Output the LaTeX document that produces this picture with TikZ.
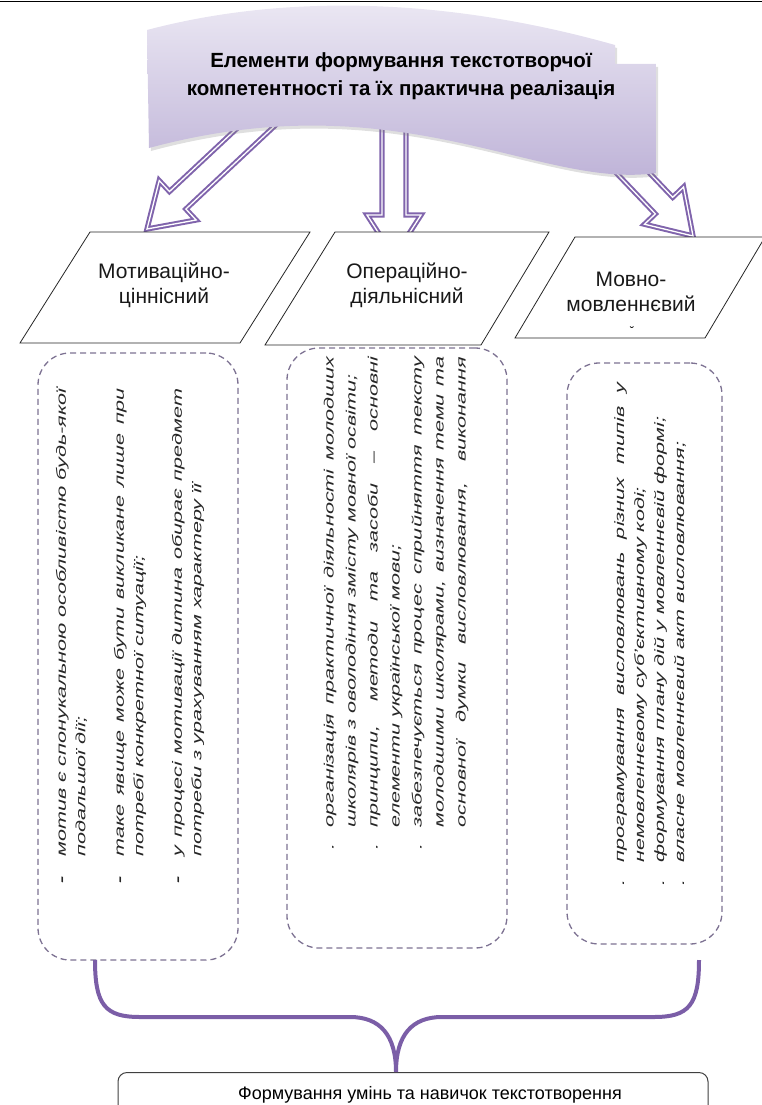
\documentclass[tikz,border=0pt]{standalone}
\usepackage{fontspec}
\setmainfont{Liberation Sans}
\usepackage{xcolor}
\usetikzlibrary{calc,shadows,backgrounds}

\definecolor{bannerTop}{RGB}{238,235,245}
\definecolor{bannerBottom}{RGB}{188,176,214}
\definecolor{arrowPurple}{RGB}{128,100,172}
\definecolor{dashGray}{RGB}{125,114,146}
\definecolor{bracePurple}{RGB}{123,94,167}

\tikzset{
  paraLine/.style={draw=black!85, line width=0.8pt, fill=white},
  paraLabel/.style={align=center, font=\fontsize{21}{25}\selectfont, text=black!90},
  noteBox/.style={draw=dashGray, line width=1.3pt, dash pattern=on 6pt off 4pt,
    rounded corners=32pt, inner sep=0pt},
  noteText/.style={rotate=90, xscale=1.6, align=left, inner sep=0pt,
    font=\itshape\fontsize{13.5}{19.5}\selectfont, text=black!85},
  blockArrow/.style={draw=arrowPurple, line width=2pt, double=white,
    double distance=1.3pt, fill=white, line join=miter},
  braceLine/.style={draw=bracePurple, line width=4pt},
  finalBox/.style={draw=black!75, line width=1pt, rounded corners=9pt, fill=white},
}

% justified and last lines of a bullet item
\newlength\bulW
\newlength\noteW
\newcommand\fullLine[2]{\makebox[\bulW][l]{#1}\makebox[\noteW][s]{#2}}
\newcommand\lastLine[2]{\makebox[\bulW][l]{#1}#2}

% hollow block arrow from #1 to #2
\newcommand\hollowArrow[2]{%
  \coordinate (ah) at ($(#2)!42pt!(#1)$);
  \draw[blockArrow] ($(#1)!12pt!90:(#2)$) -- ($(ah)!12pt!90:(#2)$)
    -- ($(ah)!27pt!90:(#2)$) -- (#2) -- ($(ah)!27pt!-90:(#2)$)
    -- ($(ah)!12pt!-90:(#2)$) -- ($(#1)!12pt!-90:(#2)$) -- cycle;}

\begin{document}
\begin{tikzpicture}[x=1pt,y=-1pt]
\useasboundingbox (0,0) rectangle (762,1105);

\draw[line width=1.5pt] (0,1.5) -- (762,1.5);

% banner
\path[top color=bannerTop, bottom color=bannerBottom,
  drop shadow={shadow xshift=2pt, shadow yshift=-3pt, opacity=0.25}]
  (147,30) .. controls (260,0) and (420,-10) .. (615,45) -- (615,64) -- (656,64)
  -- (656,173) .. controls (540,190) and (400,80) .. (149,148) -- cycle;
\node[align=center, font=\bfseries\fontsize{20.5}{28}\selectfont] (title) at (401,76)
  {Елементи формування текстотворчої\\компетентності та їх практична реалізація};

% components
\draw[paraLine] (20,343) -- (90,232) -- (310,232) -- (240,343) -- cycle;
\draw[paraLine] (265,345) -- (335,232) -- (549,232) -- (481,345) -- cycle;
\draw[paraLine] (515,338) -- (575,237) -- (765,237) -- (705,338) -- cycle;
\node[paraLabel] (lab1) at (164,285) {Мотиваційно-\\ціннісний};
\node[paraLabel] (lab2) at (407,285) {Операційно-\\діяльнісний};
\node[paraLabel] (lab3) at (631,292) {Мовно-\\мовленнєвий};
\node[font=\fontsize{12}{12}\selectfont] (lab3mark) at (632,331) {˘};

% arrows
\coordinate (tail1) at (272,112);
\coordinate (tail2) at (394,120);
\coordinate (tail3) at (590,128);
\coordinate (tip1) at (147,229);
\coordinate (tip2) at (394,257);
\coordinate (tip3) at (693,236);
\begin{scope}[on background layer]
\hollowArrow{tail1}{tip1}
\hollowArrow{tail2}{tip2}
\hollowArrow{tail3}{tip3}
\end{scope}

% dashed boxes
\node[noteBox, minimum width=200pt, minimum height=607pt] (box1) at (138,656.5) {};
\node[noteBox, minimum width=220pt, minimum height=600pt] (box2) at (397,648) {};
\node[noteBox, minimum width=155pt, minimum height=581pt] (box3) at (644.5,653.5) {};

\setlength\bulW{16.9pt}\setlength\noteW{292pt}
\node[noteText] (note1) at (130,636) {%
\fullLine{\textbf{-}}{мотив є спонукальною особливістю будь-якої}\\
\lastLine{}{подальшої дії;}\\[19pt]
\fullLine{\textbf{-}}{таке явище може бути викликане лише при}\\
\lastLine{}{потребі конкретної ситуації;}\\[19pt]
\fullLine{\textbf{-}}{у процесі мотивації дитина обирає предмет}\\
\lastLine{}{потреби з урахуванням характеру її}};

\setlength\bulW{13.8pt}\setlength\noteW{294pt}
\node[noteText, font=\itshape\fontsize{13.5}{22}\selectfont] (note2) at (396,603) {%
\fullLine{.}{організація практичної діяльності молодших}\\
\lastLine{}{школярів з оволодіння змісту мовної освіти;}\\
\fullLine{.}{принципи, методи та засоби – основні}\\
\lastLine{}{елементи української мови;}\\
\fullLine{.}{забезпечується процес сприйняття тексту}\\
\fullLine{}{молодшими школярами, визначення теми та}\\
\fullLine{}{основної думки висловлювання, виконання}};

\setlength\bulW{14.4pt}\setlength\noteW{300pt}
\node[noteText, font=\itshape\fontsize{13.5}{20}\selectfont] (note3) at (650,634) {%
\fullLine{.}{програмування висловлювань різних типів у}\\
\lastLine{}{немовленнєвому суб’єктивному коді;}\\
\lastLine{.}{формування плану дій у мовленнєвій формі;}\\
\lastLine{.}{власне мовленнєвий акт висловлювання;}};

% result
\node[finalBox, minimum width=590pt, minimum height=60pt, anchor=north] (final) at (413,1072) {};
\node[font=\fontsize{18}{22}\selectfont] (finaltext) at (430,1095) {Формування умінь та навичок текстотворення};

\coordinate (braceL) at (95,960);
\coordinate (braceR) at (699,960);
\coordinate (braceTip) at ($(final.north)+(-17,0)$);
\draw[braceLine] (braceL) .. controls (95,1005) and (105,1017) .. (140,1017) -- (350,1017)
  .. controls (380,1017) and ($(braceTip)+(0,-37)$) .. (braceTip)
  .. controls ($(braceTip)+(0,-37)$) and (412,1017) .. (442,1017) -- (654,1017)
  .. controls (689,1017) and (699,1005) .. (braceR);
\end{tikzpicture}
\end{document}
